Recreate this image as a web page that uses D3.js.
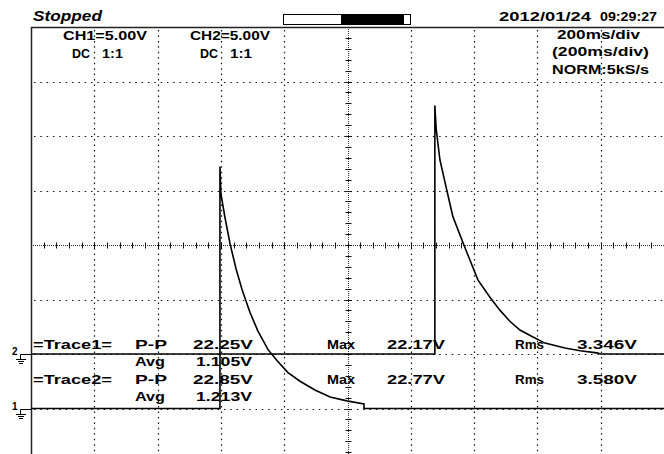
<!DOCTYPE html>
<html>
<head>
<meta charset="utf-8">
<script src="https://cdn.jsdelivr.net/npm/d3@7"></script>
<style>
  body { margin: 0; background: #fff; }
  text { font-family: "Liberation Sans", Arial, sans-serif; font-weight: bold; fill: #000; }
</style>
</head>
<body>
<div id="scope"></div>
<script>
// scope screenshot values (time in ms, volts)
var ch1Time = [0, 597, 597, 600, 613, 629, 648, 667, 692, 717, 749, 777, 812, 850, 897, 945, 998, 1052, 1052, 2000];
var ch1Volt = [0, 0, 22.2, 19.7, 17.5, 15.1, 12.8, 10.9, 8.8, 7.1, 5.4, 4.4, 3.3, 2.5, 1.7, 1.05, 0.7, 0.42, 0, 0];
var ch2Time = [0, 1276, 1276, 1280, 1292, 1314, 1333, 1365, 1412, 1450, 1482, 1513, 1545, 1583, 1624, 1687, 1735, 1788, 1800, 2000];
var ch2Volt = [0, 0, 22.8, 20.7, 17.8, 15.0, 12.6, 10.2, 6.8, 5.2, 4.0, 3.0, 2.2, 1.6, 1.0, 0.55, 0.3, 0.1, 0, 0];

var traceNames = ["=Trace1=", "=Trace2="];
var ppVals = ["22.25V", "22.85V"];
var avgVals = ["1.105V", "1.213V"];
var maxVals = ["22.17V", "22.77V"];
var rmsVals = ["3.346V", "3.580V"];

var chLabels = ["CH1=5.00V", "CH2=5.00V"];
var timeLabels = ["200ms/div", "(200ms/div)", "NORM:5kS/s"];
var statusText = "Stopped";
var dateText = ["2012/01/24", "09:29:27"];

var width = 664;
var height = 454;
var voltsPerDiv = 5;
var ch1Offset = -3; // ground marker position in divisions
var ch2Offset = -2;

var svg = d3.select("#scope")
  .append("svg")
  .attr("width", width)
  .attr("height", height);

// 10 x 8 divisions; the bottom row is cut off by the screen grab
var x = d3.scaleLinear().domain([0, 2000]).range([31, 664]);
var y = d3.scaleLinear().domain([-4, 4]).range([463, 27]);

// dotted grid
var grid = svg.append("g").attr("class", "grid");
var xDiv = d3.range(200, 2000, 200).filter(function(d) { return d != 1000; });
var yDiv = d3.range(-3, 4, 1).filter(function(d) { return d != 0; });

grid.selectAll("line.v").data(xDiv).enter()
  .append("line")
  .attr("x1", function(d) { return Math.round(x(d)) + 0.5; })
  .attr("x2", function(d) { return Math.round(x(d)) + 0.5; })
  .attr("y1", y(4) + 3).attr("y2", height)
  .attr("stroke", "#111").attr("stroke-width", 1.2)
  .attr("stroke-dasharray", "1.5 " + ((y(0) - y(0.1)) - 1.5));

grid.selectAll("line.h").data(yDiv).enter()
  .append("line")
  .attr("y1", function(d) { return Math.round(y(d)) + 0.5; })
  .attr("y2", function(d) { return Math.round(y(d)) + 0.5; })
  .attr("x1", x(0) + 3).attr("x2", width)
  .attr("stroke", "#111").attr("stroke-width", 1.2)
  .attr("stroke-dasharray", "1.5 " + ((x(20) - x(0)) - 1.5));

// center cross with minor ticks
var cx = Math.round(x(1000)) + 0.5;
var cy = Math.round(y(0)) + 0.5;
grid.append("line").attr("x1", cx).attr("x2", cx).attr("y1", y(4)).attr("y2", height)
  .attr("stroke", "#333").attr("stroke-dasharray", "1 1");
grid.append("line").attr("y1", cy).attr("y2", cy).attr("x1", x(0)).attr("x2", width)
  .attr("stroke", "#333").attr("stroke-dasharray", "1 1");

grid.selectAll("line.ty").data(d3.range(-4, 4.01, 0.2)).enter()
  .append("line")
  .attr("x1", cx - 3).attr("x2", cx + 3)
  .attr("y1", function(d) { return Math.round(y(d)) + 0.5; })
  .attr("y2", function(d) { return Math.round(y(d)) + 0.5; })
  .attr("stroke", "#111");
grid.selectAll("line.tx").data(d3.range(0, 2001, 40)).enter()
  .append("line")
  .attr("y1", cy - 3).attr("y2", cy + 3)
  .attr("x1", function(d) { return Math.round(x(d)) + 0.5; })
  .attr("x2", function(d) { return Math.round(x(d)) + 0.5; })
  .attr("stroke", "#111");

// frame
svg.append("line").attr("x1", 31.5).attr("x2", 31.5).attr("y1", 27).attr("y2", height)
  .attr("stroke", "#222").attr("stroke-width", 1.5);
svg.append("line").attr("x1", 31).attr("x2", width).attr("y1", 27.5).attr("y2", 27.5)
  .attr("stroke", "#222").attr("stroke-width", 1.5);

// traces
function traceLine(times, volts, offset) {
  var pts = times.map(function(t, i) { return [t, volts[i]]; });
  return d3.line()
    .x(function(d) { return x(d[0]); })
    .y(function(d) { return y(offset + d[1] / voltsPerDiv); })(pts);
}
svg.append("path").attr("d", traceLine(ch1Time, ch1Volt, ch1Offset))
  .attr("fill", "none").attr("stroke", "#000").attr("stroke-width", 1.6);
svg.append("path").attr("d", traceLine(ch2Time, ch2Volt, ch2Offset))
  .attr("fill", "none").attr("stroke", "#000").attr("stroke-width", 1.6);

// ground markers
function groundMark(num, offset) {
  var gy = Math.round(y(offset)) + 0.5;
  var g = svg.append("g").attr("stroke", "#000").attr("stroke-width", 1);
  g.append("line").attr("x1", 20.5).attr("x2", 31).attr("y1", gy).attr("y2", gy);
  g.append("line").attr("x1", 20.5).attr("x2", 20.5).attr("y1", gy).attr("y2", gy + 5);
  g.append("line").attr("x1", 16).attr("x2", 26).attr("y1", gy + 5).attr("y2", gy + 5);
  g.append("line").attr("x1", 18).attr("x2", 24).attr("y1", gy + 7).attr("y2", gy + 7);
  g.append("line").attr("x1", 19).attr("x2", 23).attr("y1", gy + 9).attr("y2", gy + 9);
  svg.append("text").attr("x", 12).attr("y", gy).attr("font-size", 10).text(num);
}
groundMark("1", ch1Offset);
groundMark("2", ch2Offset);

// text helper: fixed width like the scope font
function label(txt, lx, ly, w, size) {
  return svg.append("text")
    .attr("x", lx).attr("y", ly)
    .attr("font-size", size || 13)
    .attr("textLength", w)
    .attr("lengthAdjust", "spacingAndGlyphs")
    .text(txt);
}

// header
label(statusText, 33, 21, 69, 14).attr("font-style", "italic");
label(dateText[0], 499, 21, 92, 13);
label(dateText[1], 600, 21, 57, 13);

// record length bar
svg.append("rect").attr("x", 283.5).attr("y", 14.5).attr("width", 127).attr("height", 10)
  .attr("fill", "#fff").attr("stroke", "#000");
svg.append("rect").attr("x", 341).attr("y", 15).attr("width", 63).attr("height", 9)
  .attr("fill", "#000");

label(chLabels[0], 63, 40, 84);
label(chLabels[1], 190, 40, 80);
label("DC", 72, 58, 18);
label("1:1", 102, 58, 21);
label("DC", 200, 58, 18);
label("1:1", 230, 58, 22);

label(timeLabels[0], 557, 39, 83);
label(timeLabels[1], 552, 56, 97);
label(timeLabels[2], 552, 74, 97);

// measurement table
var rowY = [349, 384];
var avgY = [366, 401];
traceNames.forEach(function(name, i) {
  label(name, 33, rowY[i], 79);
  label("P-P", 135, rowY[i], 32);
  label(ppVals[i], 193, rowY[i], 60);
  label("Max", 327, rowY[i], 28);
  label(maxVals[i], 387, rowY[i], 58);
  label("Rms", 515, rowY[i], 29);
  label(rmsVals[i], 577, rowY[i], 60);
  label("Avg", 135, avgY[i], 30);
  label(avgVals[i], 196, avgY[i], 56);
});
</script>
</body>
</html>
